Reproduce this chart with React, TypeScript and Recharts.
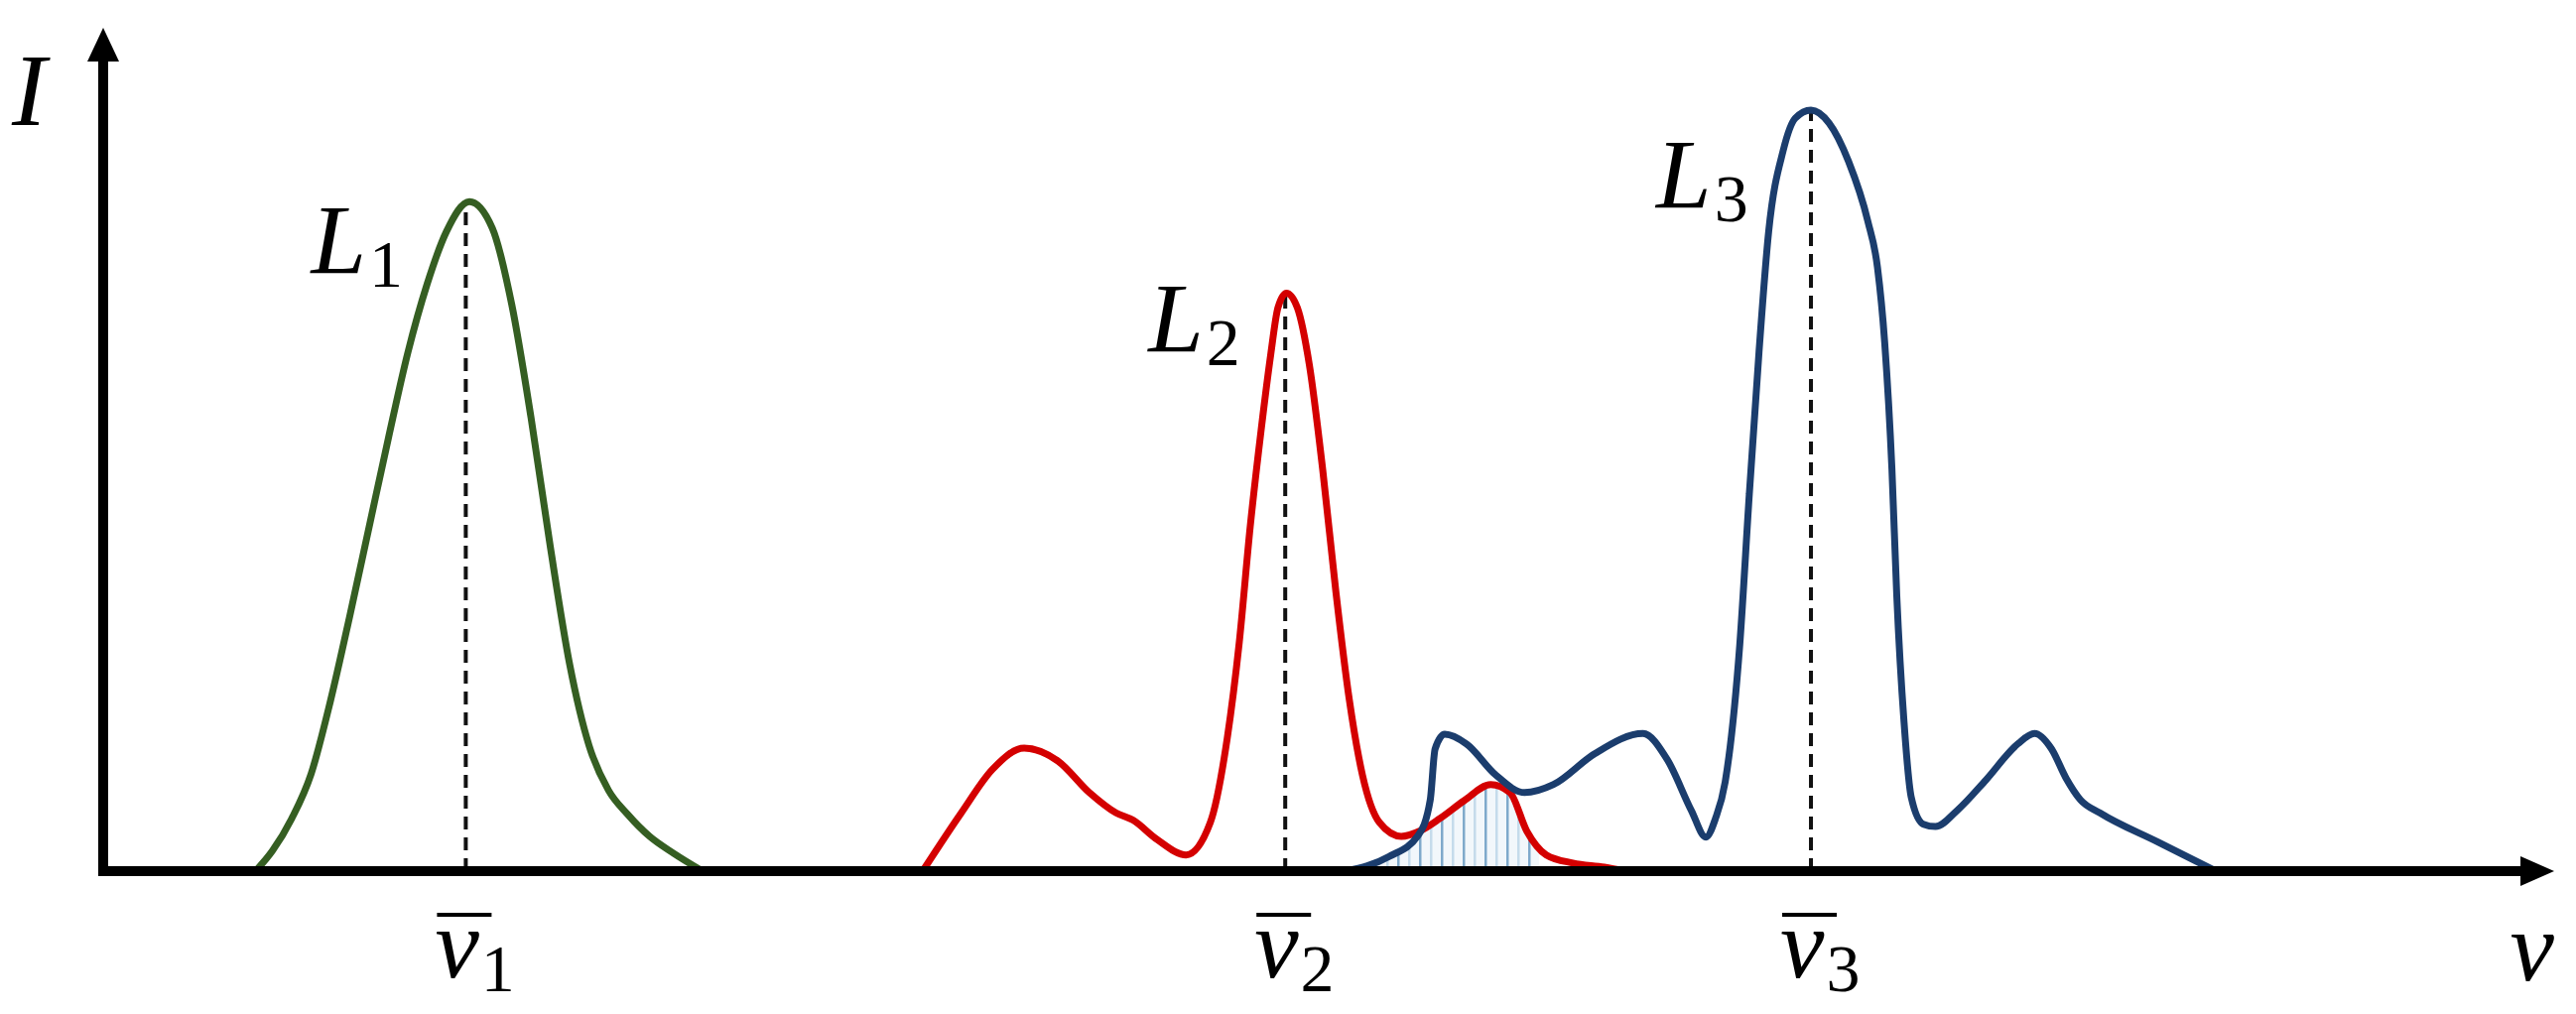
import { ComposedChart, Line, Area, XAxis, YAxis, ReferenceLine } from "recharts";

// ν is read along the horizontal axis (0..100), I along the vertical one (0..100)
const l1Nu = [6.3, 7.0, 7.8, 8.6, 9.4, 10.2, 11.0, 11.8, 12.6, 13.4, 14.2, 15.15, 16.1, 16.9, 17.7, 18.5, 19.3, 20.1, 20.9, 21.7, 22.6, 23.6, 24.8];
const l1I = [0, 2.5, 6.5, 12.0, 21.0, 31.5, 42.5, 53.5, 64.0, 72.5, 79.0, 82.7, 79.4, 70.0, 56.0, 40.0, 25.5, 15.5, 10.0, 7.0, 4.3, 2.2, 0];

const l2Nu = [33.9, 35.5, 36.8, 38.1, 39.5, 40.8, 41.9, 42.6, 43.6, 44.8, 45.8, 46.5, 47.0, 47.45, 47.9, 48.3, 48.6, 48.95, 49.4, 49.9, 50.45, 51.0, 51.55, 52.1, 52.8, 53.7, 54.5, 55.3, 56.3, 57.4, 58.2, 58.9, 59.7, 60.8, 62.1, 63.0];
const l2I = [0, 7.2, 12.6, 15.2, 13.6, 9.7, 7.2, 6.3, 3.9, 2.0, 6.0, 16.4, 28.3, 42.5, 54.4, 63.8, 69.6, 71.4, 69.6, 62.5, 49.6, 34.4, 21.2, 11.8, 6.0, 4.3, 5.0, 6.5, 8.7, 10.7, 9.7, 4.9, 2.0, 1.0, 0.5, 0];

const l3Nu = [51.4, 53.2, 54.4, 54.9, 55.1, 55.5, 56.4, 57.6, 58.8, 60.0, 61.7, 63.7, 64.7, 65.7, 66.3, 66.7, 67.1, 67.7, 68.1, 68.5, 68.9, 69.5, 70.0, 70.65, 71.4, 72.2, 73.0, 73.4, 73.7, 74.0, 74.2, 74.5, 74.8, 75.3, 75.8, 76.7, 77.9, 79.2, 79.9, 80.6, 81.2, 81.8, 82.6, 85.0, 87.4];
const l3I = [0, 1.8, 4.4, 8.8, 15.1, 16.9, 15.7, 11.9, 9.7, 10.7, 14.5, 17.0, 13.8, 7.5, 4.2, 6.5, 11.0, 27.8, 46.6, 64.1, 79.0, 89.0, 93.0, 94.0, 92.4, 87.7, 80.3, 74.6, 65.3, 49.6, 34.0, 18.4, 9.1, 5.8, 5.5, 7.5, 11.3, 15.7, 17.0, 15.1, 11.5, 8.8, 7.2, 3.6, 0];

// shaded overlap of L2 and L3
const overlapNu = [52.8, 53.2, 53.8, 54.4, 54.6, 55.3, 56.3, 57.4, 58.2, 58.9, 59.4];
const overlapI = [1.5, 1.8, 3.0, 4.4, 4.9, 6.5, 8.7, 10.7, 9.7, 4.9, 3.2];

// line centres and their peak heights
const nuBar = [15.0, 48.9, 70.65];
const peakI = [82.7, 71.4, 94.0];
const peakNames = ["1", "2", "3"];
const labelOffsets = [
  { dx: -156, dy: 72 },
  { dx: -138, dy: 59 },
  { dx: -156, dy: 98 },
];

const GREEN = "#355e22";
const RED = "#d40000";
const BLUE = "#1b3d6d";
const FONT = '"Liberation Serif", "Times New Roman", serif';

const zip = (nu: number[], I: number[]) => nu.map((n, i) => ({ nu: n, I: I[i] }));

const l1Data = zip(l1Nu, l1I);
const l2Data = zip(l2Nu, l2I);
const l3Data = zip(l3Nu, l3I);
const overlapData = zip(overlapNu, overlapI);

function renderNuTick(props: any) {
  const { x, y, payload } = props;
  const idx = nuBar.indexOf(payload.value);
  return (
    <g>
      <line x1={x - 29} x2={x + 26} y1={y + 36} y2={y + 36} stroke="#000" strokeWidth={4} />
      <text x={x - 31} y={y + 99} fontFamily={FONT} fontSize={100} fontStyle="italic" fill="#000">
        ν
        <tspan fontStyle="normal" fontSize={68} dx={2} dy={14}>
          {peakNames[idx]}
        </tspan>
      </text>
    </g>
  );
}

const peakLabel = (i: number) => (props: any) => {
  const vb = props.viewBox || {};
  const { dx, dy } = labelOffsets[i];
  return (
    <text x={vb.x + dx} y={vb.y + dy} fontFamily={FONT} fontSize={100} fontStyle="italic" fill="#000">
      L
      <tspan fontStyle="normal" fontSize={68} dx={3} dy={14}>
        {peakNames[i]}
      </tspan>
    </text>
  );
};

const renderNuTitle = (props: any) => {
  const vb = props.viewBox;
  return (
    <text x={vb.x + vb.width + 34} y={vb.y + 110} textAnchor="end" fontFamily={FONT} fontSize={100} fontStyle="italic" fill="#000">
      ν
    </text>
  );
};

const renderITitle = (props: any) => {
  const vb = props.viewBox;
  return (
    <text x={vb.x + 12} y={vb.y + 64} fontFamily={FONT} fontSize={104} fontStyle="italic" fill="#000">
      I
    </text>
  );
};

export default function App() {
  return (
    <div style={{ width: 2596, height: 1022, background: "#fff" }}>
      <style>{`body{margin:0;background:#fff}`}</style>
      <ComposedChart width={2596} height={1022} margin={{ top: 62, right: 56, bottom: 0, left: 0 }}>
        <defs>
          <marker id="arrowY" viewBox="0 0 34 32" refX="0" refY="16" markerWidth="34" markerHeight="32" markerUnits="userSpaceOnUse" orient="auto-start-reverse">
            <path d="M0,0 L34,16 L0,32 Z" fill="#000" />
          </marker>
          <marker id="arrowX" viewBox="0 0 34 30" refX="0" refY="15" markerWidth="34" markerHeight="30" markerUnits="userSpaceOnUse" orient="auto-start-reverse">
            <path d="M0,0 L34,15 L0,30 Z" fill="#000" />
          </marker>
          <pattern id="hatch" patternUnits="userSpaceOnUse" width="22" height="20">
            <rect width="22" height="20" fill="#f2f7fb" />
            <rect x="0" width="2.5" height="20" fill="#7fa9cb" />
            <rect x="11" width="2.5" height="20" fill="#c5dbeb" />
          </pattern>
        </defs>
        <XAxis
          type="number"
          dataKey="nu"
          domain={[0, 100]}
          allowDataOverflow
          ticks={nuBar}
          interval={0}
          tickLine={false}
          tick={renderNuTick}
          height={144}
          axisLine={{ stroke: "#000", strokeWidth: 10, strokeLinecap: "square", markerEnd: "url(#arrowX)" }}
          label={{ content: renderNuTitle }}
        />
        <YAxis
          type="number"
          dataKey="I"
          domain={[0, 100]}
          allowDataOverflow
          tick={false}
          tickLine={false}
          width={104}
          axisLine={{ stroke: "#000", strokeWidth: 10, strokeLinecap: "square", markerStart: "url(#arrowY)" }}
          label={{ content: renderITitle }}
        />
        <Area data={overlapData} dataKey="I" type="monotone" fill="url(#hatch)" fillOpacity={1} stroke="none" isAnimationActive={false} />
        {nuBar.map((n, i) => (
          <ReferenceLine
            key={i}
            segment={[{ x: n, y: 0 }, { x: n, y: peakI[i] }]}
            stroke="#111"
            strokeWidth={4}
            strokeDasharray="13 8"
            label={peakLabel(i)}
          />
        ))}
        <Line data={l1Data} dataKey="I" type="monotone" stroke={GREEN} strokeWidth={7} dot={false} activeDot={false} isAnimationActive={false} />
        <Line data={l2Data} dataKey="I" type="monotone" stroke={RED} strokeWidth={7} dot={false} activeDot={false} isAnimationActive={false} />
        <Line data={l3Data} dataKey="I" type="monotone" stroke={BLUE} strokeWidth={7} dot={false} activeDot={false} isAnimationActive={false} />
      </ComposedChart>
    </div>
  );
}
